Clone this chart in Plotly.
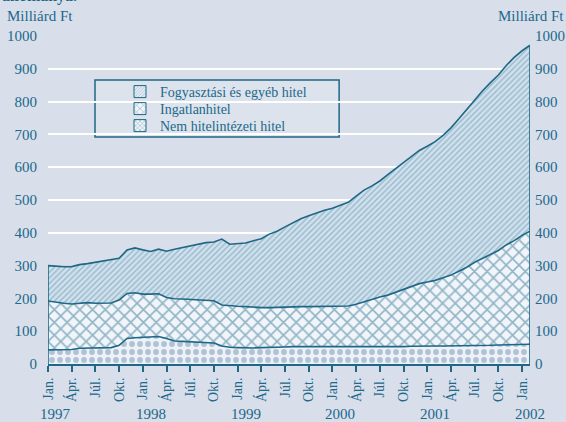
import plotly.graph_objects as go

# ---- data (Milliárd Ft), monthly Jan 1997 .. Feb 2002 ----
month_names = ["Jan.", "Febr.", "Márc.", "Ápr.", "Máj.", "Jún.", "Júl.", "Aug.", "Szept.", "Okt.", "Nov.", "Dec."]
years = [1997, 1998, 1999, 2000, 2001, 2002]
n_months = 62

nem_hitelintezeti = [43, 43, 43, 44, 48, 49, 50, 50, 50, 57, 78, 80,
                     81, 83, 84, 78, 70, 69, 68, 67, 66, 64, 55, 51,
                     50, 49, 49, 50, 50, 50, 52, 53, 53, 53, 53, 53,
                     52, 52, 52, 51, 51, 51, 51, 51, 52, 53, 54, 55,
                     55, 55, 55, 55, 55, 55, 55, 55, 57, 58, 58, 59,
                     60, 60]
ingatlanhitel = [149, 145, 142, 139, 138, 138, 135, 135, 136, 138, 137, 137,
                 132, 130, 130, 125, 129, 129, 129, 130, 130, 129, 125, 126,
                 126, 126, 124, 122, 122, 123, 123, 123, 122, 122, 122, 122,
                 124, 124, 125, 131, 139, 146, 153, 159, 167, 175, 182, 190,
                 195, 200, 208, 216, 228, 240, 255, 267, 278, 288, 305, 317,
                 332, 345]
fogyasztasi = [108, 110, 112, 114, 117, 119, 125, 128, 130, 127, 133, 137,
               135, 130, 136, 141, 151, 157, 165, 169, 174, 179, 201, 188,
               190, 194, 203, 210, 224, 232, 243, 254, 268, 277, 286, 294,
               299, 307, 316, 330, 340, 346, 354, 367, 376, 385, 396, 406,
               414, 423, 434, 449, 465, 481, 496, 511, 523, 535, 547, 559,
               563, 567]

series_names = ["Fogyasztási és egyéb hitel", "Ingatlanhitel", "Nem hitelintézeti hitel"]
y_ticks = list(range(0, 1001, 100))

# ---- styling ----
BG = "#d8dfea"
TEAL = "#21688a"
LINE = "#1f6784"
FONT = "Liberation Serif, Times New Roman, serif"

x = list(range(n_months))
tickvals = list(range(0, n_months, 3))
ticktext = [month_names[v % 12] for v in tickvals]

patterns = {
    "Nem hitelintézeti hitel": dict(shape=".", fgcolor="#6f93b1", bgcolor="#eef2f8", size=8, solidity=0.42),
    "Ingatlanhitel": dict(shape="x", fgcolor="#2f7491", bgcolor="#f1f5fa", size=9, solidity=0.33),
    "Fogyasztási és egyéb hitel": dict(shape="/", fgcolor="#5090b0", bgcolor="#d2e0eb", size=4, solidity=0.33),
}
legend_patterns = {
    "Nem hitelintézeti hitel": dict(shape="x", fgcolor="#2f7491", bgcolor="#f1f5fa", size=4, solidity=0.35),
    "Ingatlanhitel": dict(shape="x", fgcolor="#2f7491", bgcolor="#f1f5fa", size=6, solidity=0.25),
    "Fogyasztási és egyéb hitel": dict(shape="/", fgcolor="#5090b0", bgcolor="#e4ebf2", size=3, solidity=0.3),
}

fig = go.Figure()

stack = [("Nem hitelintézeti hitel", nem_hitelintezeti),
         ("Ingatlanhitel", ingatlanhitel),
         ("Fogyasztási és egyéb hitel", fogyasztasi)]
for name, vals in stack:
    fig.add_trace(go.Scatter(
        x=x, y=vals, name=name, stackgroup="one", mode="lines",
        line=dict(color=LINE, width=1.6),
        fillpattern=patterns[name], fillcolor=patterns[name]["bgcolor"],
        showlegend=False, hoverinfo="skip"))

# edge lines at start and end of stacked area
total = [a + b + c for a, b, c in zip(nem_hitelintezeti, ingatlanhitel, fogyasztasi)]
for i in (0, n_months - 1):
    fig.add_trace(go.Scatter(x=[x[i], x[i]], y=[0, total[i]], mode="lines",
                             line=dict(color=LINE, width=1.6), showlegend=False, hoverinfo="skip"))

# legend keys (square swatches), one legend per row for tight spacing
legend_ids = ["legend", "legend2", "legend3"]
for name, lid in zip(series_names, legend_ids):
    fig.add_trace(go.Bar(x=[None], y=[None], name=name, legend=lid,
                         marker=dict(color=legend_patterns[name]["bgcolor"],
                                     line=dict(color=LINE, width=1),
                                     pattern=legend_patterns[name])))

# right axis carrier
fig.add_trace(go.Scatter(x=[None], y=[None], yaxis="y2", showlegend=False, hoverinfo="skip"))

# legend box
fig.add_shape(type="rect", xref="paper", yref="paper", x0=0.0975, x1=0.604, y0=0.692, y1=0.866,
              fillcolor="#dce3ed", line=dict(color=LINE, width=1.5), layer="below")

# year labels
for k, yr in enumerate(years):
    fig.add_annotation(x=12 * k + 1, y=-0.152, xref="x", yref="paper", text=str(yr),
                       showarrow=False, font=dict(family=FONT, size=15, color=TEAL),
                       xanchor="center", yanchor="middle")

fig.add_annotation(x=-0.09, y=1.0595, xref="paper", yref="paper", text="Milliárd Ft",
                   showarrow=False, font=dict(family=FONT, size=15, color=TEAL),
                   xanchor="left", yanchor="middle")
fig.add_annotation(x=1.0747, y=1.0595, xref="paper", yref="paper", text="Milliárd Ft",
                   showarrow=False, font=dict(family=FONT, size=15, color=TEAL),
                   xanchor="right", yanchor="middle")
fig.add_annotation(x=-0.1, y=1.089, xref="paper", yref="paper", text="<b>állománya.</b>",
                   showarrow=False, font=dict(family=FONT, size=16, color=TEAL),
                   xanchor="left", yanchor="bottom")

leg_common = dict(xanchor="left", yanchor="middle", bgcolor="rgba(0,0,0,0)", borderwidth=0,
                  font=dict(family=FONT, size=14, color=TEAL), itemwidth=30)
row_px = [92, 109, 126]
leg_x = (120 - 48) / 482

fig.update_layout(
    width=566, height=422,
    margin=dict(l=48, r=36, t=36, b=58, autoexpand=False),
    paper_bgcolor=BG, plot_bgcolor=BG,
    font=dict(family=FONT, size=15, color=TEAL),
    showlegend=True,
    legend=dict(x=leg_x, y=(364 - row_px[0]) / 328, **leg_common),
    legend2=dict(x=leg_x, y=(364 - row_px[1]) / 328, **leg_common),
    legend3=dict(x=leg_x, y=(364 - row_px[2]) / 328, **leg_common),
    xaxis=dict(range=[0, n_months - 1], tickvals=tickvals, ticktext=ticktext,
               tickangle=-90, ticks="outside", ticklen=6, tickwidth=1.5, tickcolor=LINE,
               showgrid=False, showline=True, linecolor=LINE, linewidth=2, automargin=False,
               zeroline=False, tickfont=dict(family=FONT, size=14, color=TEAL)),
    yaxis=dict(range=[0, 1000], tickvals=y_ticks, showgrid=True, gridcolor="white", gridwidth=2,
               zeroline=False, showline=False, ticks="", ticklabelstandoff=10, automargin=False,
               tickfont=dict(family=FONT, size=15, color=TEAL)),
    yaxis2=dict(range=[0, 1000], tickvals=y_ticks, overlaying="y", side="right", automargin=False,
                showgrid=False, zeroline=False, showline=False, ticks="", ticklabelstandoff=4,
                tickfont=dict(family=FONT, size=15, color=TEAL)),
)

fig.write_html("out.html",
               config={"displayModeBar": False},
               post_script="document.body.style.margin='0';document.body.style.overflow='hidden';"
                           "document.documentElement.style.background='%s';" % BG)
